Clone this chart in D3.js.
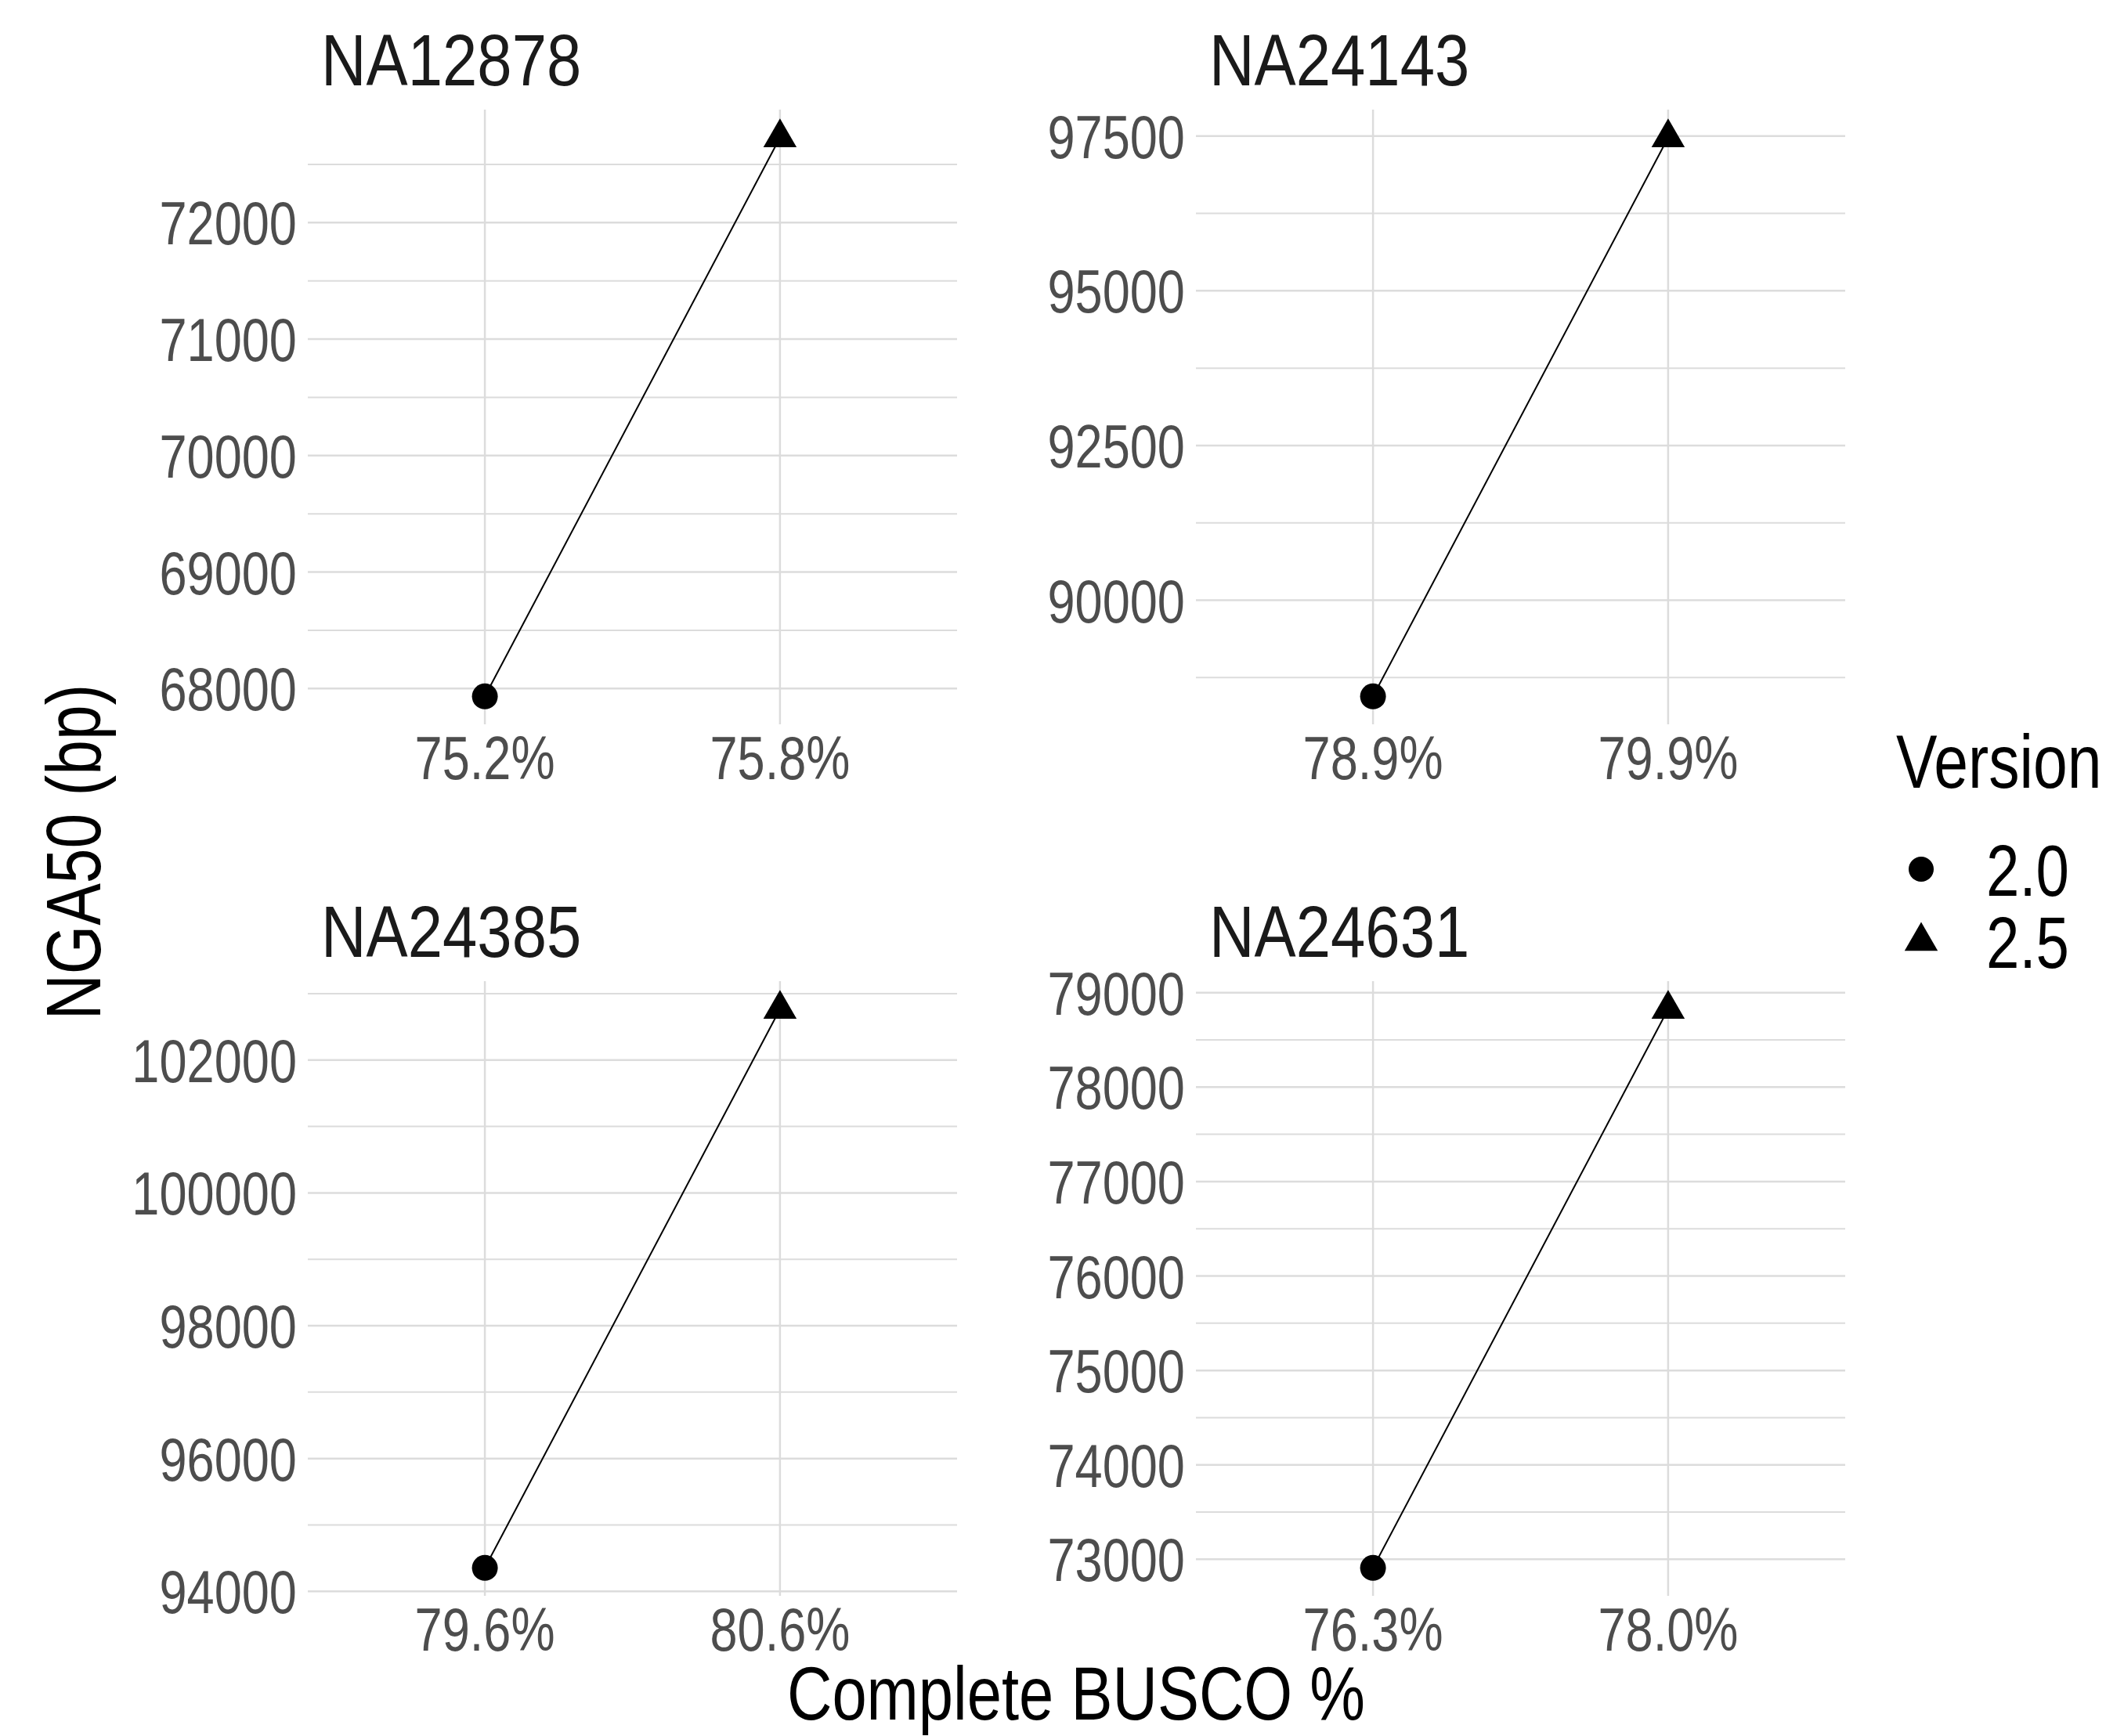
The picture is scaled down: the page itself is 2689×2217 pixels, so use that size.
<!DOCTYPE html>
<html>
<head>
<meta charset="utf-8">
<script src="https://cdn.jsdelivr.net/npm/d3@7"></script>
<style>
  html, body { margin: 0; padding: 0; background: #fff; }
  svg { display: block; }
</style>
</head>
<body>
<svg id="chart"></svg>
<script>
// ---- data ----
const samples = ["NA12878", "NA24143", "NA24385", "NA24631"]
const versions = ["2.0", "2.5"]
const buscoLabels = [
  ["75.2%", "75.8%"],
  ["78.9%", "79.9%"],
  ["79.6%", "80.6%"],
  ["76.3%", "78.0%"]
]
const nga50 = [
  [67933, 72730],
  [88447, 97475],
  [94354, 102767],
  [72909, 78826]
]
const yTickValues = [
  [68000, 69000, 70000, 71000, 72000],
  [90000, 92500, 95000, 97500],
  [94000, 96000, 98000, 100000, 102000],
  [73000, 74000, 75000, 76000, 77000, 78000, 79000]
]
const xTitle = "Complete BUSCO %"
const yTitle = "NGA50 (bp)"
const legendTitle = "Version"

// ---- layout ----
const width = 2689, height = 2217
const colX = [393, 1527]
const rowY = [140, 1253]
const panelW = 829, panelH = 785
const gridColor = "#dcdcdc"

// narrow font check, fall back to squeezed Liberation Sans
const ctx = document.createElement("canvas").getContext("2d")
ctx.font = '100px "Liberation Sans Narrow", monospace'
const wNarrow = ctx.measureText(xTitle).width
ctx.font = "100px monospace"
const wMono = ctx.measureText(xTitle).width
const hasNarrow = Math.abs(wNarrow - wMono) > 1
const fontFamily = hasNarrow ? '"Liberation Sans Narrow"' : '"Liberation Sans", Arial, sans-serif'
const sx = hasNarrow ? 1 : 0.82

const svg = d3.select("#chart")
  .attr("width", width)
  .attr("height", height)

svg.append("rect").attr("width", width).attr("height", height).attr("fill", "#fff")

function addText(parent, x, y, str, size, color, anchor, rot, stretch = 1) {
  return parent.append("text")
    .attr("transform", `translate(${x},${y})` + (rot ? ` rotate(${rot})` : "") + ` scale(${sx * stretch},1)`)
    .attr("font-family", fontFamily)
    .attr("font-size", size)
    .attr("fill", color)
    .attr("text-anchor", anchor)
    .text(str)
}

const triangle = r => `M0,${-r}L${r * 0.866},${r / 2}L${-r * 0.866},${r / 2}Z`

function minorTicks(major, domain) {
  const step = major[1] - major[0]
  const out = []
  for (let i = -1; i < major.length; i++) {
    const m = major[0] + step * (i + 0.5)
    if (m >= domain[0] && m <= domain[1]) out.push(m)
  }
  return out
}

samples.forEach((name, i) => {
  const px = colX[i % 2], py = rowY[Math.floor(i / 2)]
  const g = svg.append("g").attr("transform", `translate(${px},${py})`)

  const vals = nga50[i]
  const lo = d3.min(vals), hi = d3.max(vals)
  const pad = (hi - lo) * 0.05
  const y = d3.scaleLinear().domain([lo - pad, hi + pad]).range([panelH, 0])
  const x = d3.scalePoint().domain(buscoLabels[i]).range([0, panelW]).padding(0.6)

  // minor gridlines
  g.selectAll(".minor")
    .data(minorTicks(yTickValues[i], y.domain()))
    .enter().append("line")
    .attr("x1", 0).attr("x2", panelW)
    .attr("y1", d => y(d)).attr("y2", d => y(d))
    .attr("stroke", gridColor).attr("stroke-width", 2)

  // major gridlines
  g.selectAll(".hgrid")
    .data(yTickValues[i])
    .enter().append("line")
    .attr("x1", 0).attr("x2", panelW)
    .attr("y1", d => y(d)).attr("y2", d => y(d))
    .attr("stroke", gridColor).attr("stroke-width", 2.5)

  g.selectAll(".vgrid")
    .data(buscoLabels[i])
    .enter().append("line")
    .attr("x1", d => x(d)).attr("x2", d => x(d))
    .attr("y1", 0).attr("y2", panelH)
    .attr("stroke", gridColor).attr("stroke-width", 2.5)

  // tick labels
  yTickValues[i].forEach(t => addText(g, -14, y(t) + 28, t, 77, "#4d4d4d", "end"))
  buscoLabels[i].forEach(t => addText(g, x(t), panelH + 70, t, 77, "#4d4d4d", "middle"))

  // strip title
  addText(g, 17, -31, name, 93, "#1a1a1a", "start", 0, 1.045)

  const pts = vals.map((v, j) => ({ x: x(buscoLabels[i][j]), y: y(v), version: versions[j] }))

  g.append("path")
    .datum(pts)
    .attr("d", d3.line().x(d => d.x).y(d => d.y))
    .attr("fill", "none")
    .attr("stroke", "#000")
    .attr("stroke-width", 2)

  g.selectAll(".pt")
    .data(pts)
    .enter().append("path")
    .attr("transform", d => `translate(${d.x},${d.y})`)
    .attr("d", d => d.version === "2.0" ? d3.symbol(d3.symbolCircle, Math.PI * 16.5 * 16.5)() : triangle(24.5))
    .attr("fill", "#000")
})

// axis titles
addText(svg, 1374, 2196, xTitle, 97, "#000", "middle")
addText(svg, 128, 1088, yTitle, 98, "#000", "middle", -90)

// legend
const legend = svg.append("g")
addText(legend, 2421, 1006, legendTitle, 96, "#000", "start")
const keyY = [1110, 1202]
versions.forEach((v, j) => {
  legend.append("path")
    .attr("transform", `translate(2453,${keyY[j]})`)
    .attr("d", j === 0 ? d3.symbol(d3.symbolCircle, Math.PI * 16 * 16)() : triangle(24.5))
    .attr("fill", "#000")
  addText(legend, 2536, keyY[j] + 34, v, 93, "#000", "start")
})
</script>
</body>
</html>
